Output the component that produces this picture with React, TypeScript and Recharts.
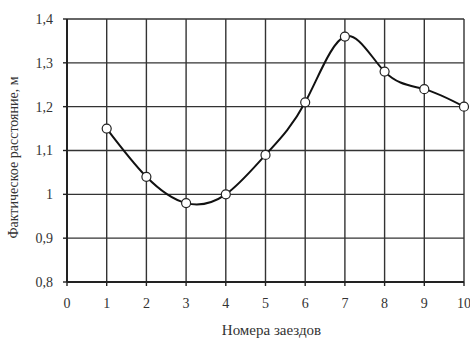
import { LineChart, Line, XAxis, YAxis, CartesianGrid } from 'recharts';

// номера заездов и фактическое расстояние
const runs = [1, 2, 3, 4, 5, 6, 7, 8, 9, 10];
const distance = [1.15, 1.04, 0.98, 1.0, 1.09, 1.21, 1.36, 1.28, 1.24, 1.2];

const xTicks = [0, 1, 2, 3, 4, 5, 6, 7, 8, 9, 10];
const yTicks = [0.8, 0.9, 1.0, 1.1, 1.2, 1.3, 1.4];

const xTitle = 'Номера заездов';
const yTitle = 'Фактическое расстояние, м';

const data = runs.map((run, i) => ({ run, value: distance[i] }));

const font = "'Liberation Serif', 'Times New Roman', serif";
const ink = '#333';

const fmt = (v: number) => String(Math.round(v * 10) / 10).replace('.', ',');

export default function App() {
  return (
    <div style={{ position: 'absolute', left: 0, top: 0, background: '#fff', fontFamily: font }}>
      <style>{`svg text, svg tspan { font-family: ${font} !important; }`}</style>
      <LineChart
        width={470}
        height={338}
        data={data}
        margin={{ top: 19, right: 6, left: 0, bottom: 0 }}
      >
        <CartesianGrid stroke={ink} strokeWidth={1.4} />
        <XAxis
          dataKey="run"
          type="number"
          domain={[0, 10]}
          ticks={xTicks}
          interval={0}
          height={56}
          tickSize={4}
          tickMargin={12}
          axisLine={{ stroke: '#222', strokeWidth: 2 }}
          tickLine={{ stroke: '#222', strokeWidth: 1.4 }}
          tick={{ fill: ink, fontSize: 14, fontFamily: font }}
          label={{ value: xTitle, position: 'insideBottom', offset: 3, dx: 6, fill: ink, fontSize: 15, fontFamily: font }}
        />
        <YAxis
          type="number"
          domain={[0.8, 1.4]}
          ticks={yTicks}
          interval={0}
          width={67}
          tickSize={4}
          tickMargin={10}
          tickFormatter={fmt}
          axisLine={{ stroke: '#222', strokeWidth: 2 }}
          tickLine={{ stroke: '#222', strokeWidth: 1.4 }}
          tick={{ fill: ink, fontSize: 14, fontFamily: font }}
          label={{
            value: yTitle,
            angle: -90,
            position: 'insideLeft',
            offset: 13,
            dy: 7,
            fill: ink,
            fontSize: 14,
            fontFamily: font,
            style: { textAnchor: 'middle', fontFamily: font },
          }}
        />
        <Line
          type="natural"
          dataKey="value"
          stroke="#111"
          strokeWidth={2}
          dot={{ r: 4.5, fill: '#fff', stroke: '#222', strokeWidth: 1.2 }}
          isAnimationActive={false}
        />
      </LineChart>
    </div>
  );
}
